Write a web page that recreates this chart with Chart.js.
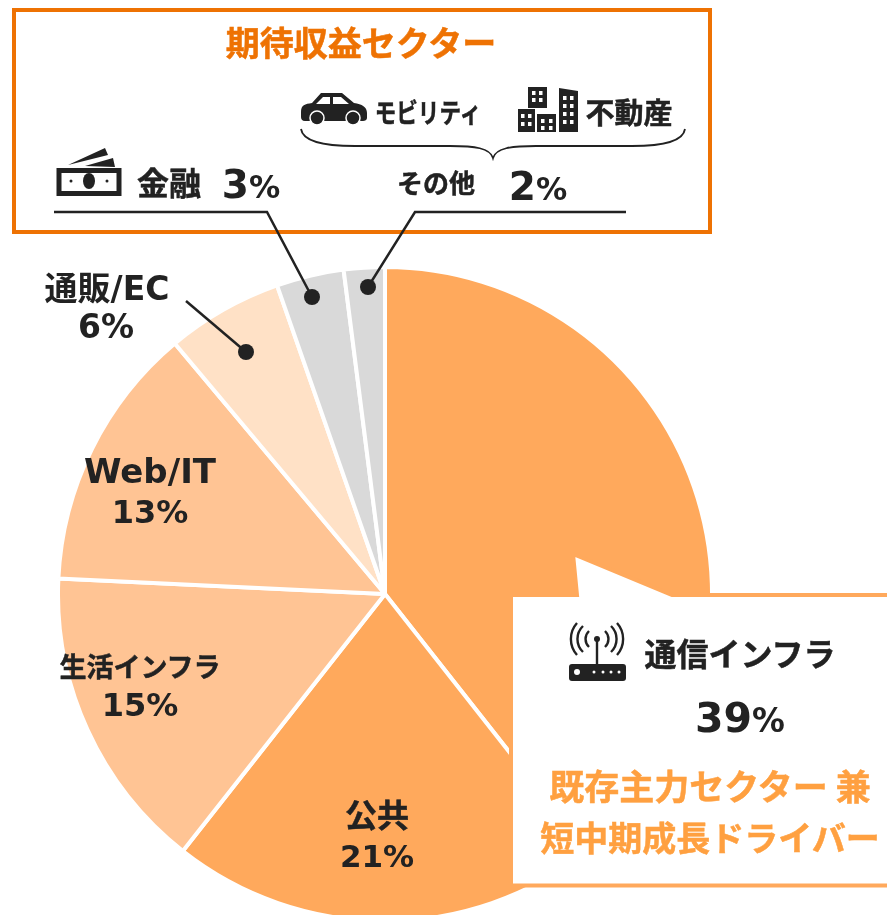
<!DOCTYPE html>
<html lang="ja">
<head>
<meta charset="utf-8">
<title>期待収益セクター</title>
<script src="https://cdn.jsdelivr.net/npm/chart.js@4/dist/chart.umd.min.js"></script>
<style>
html, body { margin: 0; padding: 0; background: #fff; }
body { position: relative; width: 887px; height: 915px; overflow: hidden;
  font-family: "DejaVu Sans", "Noto Sans CJK JP", sans-serif; font-weight: 700; color: #222; }
#pie { position: absolute; left: 56px; top: 265px; width: 658px; height: 658px; }
#overlay { position: absolute; left: 0; top: 0; }
.t { position: absolute; transform: translate(-50%, -50%); white-space: nowrap; line-height: 1; text-align: center; }
.cjk { font-family: "Noto Sans CJK JP", sans-serif; -webkit-text-stroke: 0.5px currentColor; }
.small { font-size: 0.8em; }
</style>
</head>
<body>
<canvas id="pie" width="658" height="658"></canvas>

<svg id="overlay" width="887" height="915" viewBox="0 0 887 915">
  <!-- top box -->
  <rect x="14" y="10" width="696" height="222" fill="none" stroke="#ee7203" stroke-width="4"/>
  <!-- callout -->
  <path d="M511 595 H577 L573 554 L672 595 H891 V885.5 H511 Z" fill="#fff" stroke="#ffa95c" stroke-width="4"/>
  <!-- leader lines -->
  <g fill="none" stroke="#222" stroke-width="2.5">
    <path d="M54 212 H267 L312 297"/>
    <path d="M626 212 H415 L368 287"/>
    <path d="M186 301 L246 352"/>
    <path d="M301 129 C303 143 330 146 355 146 H450 C475 146 490 148 493 158 C496 148 511 146 536 146 H632 C657 146 683 143 685 129" stroke-width="1.8"/>
  </g>
  <g fill="#222">
    <circle cx="312" cy="297" r="8"/>
    <circle cx="368" cy="287" r="8"/>
    <circle cx="246" cy="352" r="8"/>
  </g>
  <!-- car -->
  <g fill="#222">
    <path d="M301 112 C301 105 305 104 312 103 L321 93 H342 L354 103 C362 104 367 107 367 113 V118 C367 120 365 121 363 121 H305 C302 121 301 119 301 117 Z"/>
    <path d="M323 97 H330 V104 H316 Z M333 97 H341 L349 104 H333 Z" fill="#fff"/>
    <circle cx="317" cy="118" r="7" stroke="#fff" stroke-width="1.5"/>
    <circle cx="353" cy="118" r="7" stroke="#fff" stroke-width="1.5"/>
  </g>
  <!-- buildings -->
  <g fill="#222">
    <rect x="528" y="87" width="19" height="21"/>
    <rect x="518" y="109" width="17" height="23"/>
    <rect x="537" y="114" width="19" height="18"/>
    <path d="M559 88 L578 91 V132 H559 Z"/>
    <g fill="#fff">
      <rect x="532" y="91" width="3.5" height="4"/><rect x="539" y="91" width="3.5" height="4"/>
      <rect x="532" y="98" width="3.5" height="4"/><rect x="539" y="98" width="3.5" height="4"/>
      <rect x="521" y="114" width="3.5" height="4"/><rect x="528" y="114" width="3.5" height="4"/>
      <rect x="521" y="122" width="3.5" height="4"/><rect x="528" y="122" width="3.5" height="4"/>
      <rect x="541" y="119" width="3.5" height="4"/><rect x="549" y="119" width="3.5" height="4"/>
      <rect x="541" y="126" width="3.5" height="4"/><rect x="549" y="126" width="3.5" height="4"/>
      <rect x="563" y="96" width="3.5" height="4"/><rect x="570" y="96" width="3.5" height="4"/>
      <rect x="563" y="104" width="3.5" height="4"/><rect x="570" y="104" width="3.5" height="4"/>
      <rect x="563" y="112" width="3.5" height="4"/><rect x="570" y="112" width="3.5" height="4"/>
      <rect x="563" y="120" width="3.5" height="4"/><rect x="570" y="120" width="3.5" height="4"/>
    </g>
  </g>
  <!-- money -->
  <g>
    <rect x="59" y="170.5" width="60" height="23" fill="#fff" stroke="#222" stroke-width="5"/>
    <ellipse cx="89" cy="181" rx="6" ry="8" fill="#222"/>
    <circle cx="71" cy="181" r="1.5" fill="#222"/>
    <circle cx="107" cy="181" r="1.5" fill="#222"/>
    <path d="M68 165 L105 148 L108 155 Z M85 166 L113 158 L115 167 Z" fill="#222"/>
  </g>
  <!-- router -->
  <g>
    <rect x="569" y="664" width="57" height="17" rx="3" fill="#222"/>
    <g fill="#fff">
      <circle cx="577" cy="672" r="3"/>
      <circle cx="594" cy="672" r="1.5"/><circle cx="603" cy="672" r="1.5"/>
      <circle cx="611" cy="672" r="1.5"/><circle cx="619" cy="672" r="1.5"/>
    </g>
    <circle cx="597" cy="639" r="3" fill="#222"/>
    <g fill="none" stroke="#222" stroke-width="2.4">
      <path d="M597 640 V664"/>
      <path d="M589 647 A11 11 0 0 1 589 631"/><path d="M605 647 A11 11 0 0 0 605 631"/>
      <path d="M583 652 A18 18 0 0 1 583 626"/><path d="M611 652 A18 18 0 0 0 611 626"/>
      <path d="M577 655 A24 24 0 0 1 577 623"/><path d="M617 655 A24 24 0 0 0 617 623"/>
    </g>
  </g>
</svg>

<div class="t cjk" style="left:361px;top:42px;font-size:34px;color:#ee7203">期待収益セクター</div>
<div class="t cjk" style="left:428px;top:111px;font-size:27px;transform:translate(-50%,-50%) scaleX(.8)">モビリティ</div>
<div class="t cjk" style="left:629px;top:111px;font-size:29px">不動産</div>
<div class="t cjk" id="l5n" style="left:169px;top:181px;font-size:32px"></div>
<div class="t" id="l5v" style="left:251px;top:184px;font-size:39px"></div>
<div class="t cjk" id="l6n" style="left:436px;top:182px;font-size:26px"></div>
<div class="t" id="l6v" style="left:538px;top:186px;font-size:39px"></div>
<div class="t" id="l4n" style="left:107px;top:288px;font-size:33px"></div>
<div class="t" id="l4v" style="left:106px;top:326px;font-size:33px"></div>
<div class="t" id="l3n" style="left:150px;top:471px;font-size:34px"></div>
<div class="t" id="l3v" style="left:150px;top:512px;font-size:32px"></div>
<div class="t cjk" id="l2n" style="left:140px;top:665px;font-size:27px"></div>
<div class="t" id="l2v" style="left:140px;top:705px;font-size:32px"></div>
<div class="t cjk" id="l1n" style="left:377px;top:813px;font-size:32px"></div>
<div class="t" id="l1v" style="left:377px;top:856px;font-size:31px"></div>
<div class="t cjk" id="l0n" style="left:740px;top:652px;font-size:32px"></div>
<div class="t" id="l0v" style="left:740px;top:718px;font-size:41px"></div>
<div class="t cjk" style="left:710px;top:784px;font-size:35px;color:#ffa040">既存主力セクター 兼</div>
<div class="t cjk" style="left:710px;top:837px;font-size:34px;color:#ffa040">短中期成長ドライバー</div>

<script>
var categories = ["通信インフラ", "公共", "生活インフラ", "Web/IT", "通販/EC", "金融", "その他"];
// 通販/EC and 金融, the labels round them to 6 and 3
var values = [39, 21, 15, 13, 5.7, 3.3, 2];
var sliceColors = ["#ffa95c", "#ffa95c", "#ffc494", "#ffc494", "#ffe1c6", "#d9d9d9", "#d9d9d9"];

// labels in the top box and the callout have a smaller percent sign
var smallPercent = [0, 5, 6];

categories.forEach(function(name, i) {
    document.getElementById("l" + i + "n").textContent = name;
    var v = document.getElementById("l" + i + "v");
    var shown = Math.round(values[i]);
    if (smallPercent.indexOf(i) >= 0) {
        v.innerHTML = shown + '<span class="small">%</span>';
    } else {
        v.textContent = shown + "%";
    }
});

new Chart(document.getElementById("pie").getContext("2d"), {
    type: "pie",
    data: {
        labels: categories,
        datasets: [{
            data: values,
            backgroundColor: sliceColors,
            borderColor: "#fff",
            borderWidth: 4
        }]
    },
    options: {
        responsive: false,
        animation: false,
        layout: { padding: 0 },
        plugins: {
            legend: { display: false },
            tooltip: { enabled: false }
        }
    }
});
</script>
</body>
</html>
